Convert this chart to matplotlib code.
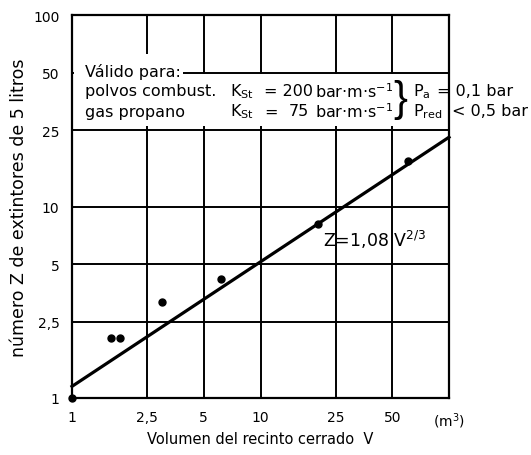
import matplotlib
matplotlib.use("Agg")
import matplotlib.pyplot as plt
from matplotlib.patches import Rectangle

plt.rcParams['font.family'] = ['DejaVu Sans']
plt.rcParams['mathtext.fontset'] = 'dejavusans'

# ---------- data ----------
volume = [1.0, 1.62, 1.8, 3.02, 6.2, 20.3, 60.6]
extinguishers = [1.0, 2.06, 2.06, 3.18, 4.16, 8.15, 17.2]
fit_v = [1.0, 100.0]
fit_z = [1.15, 23.0]
x_ticks = [1, 2.5, 5, 10, 25, 50, 100]
x_labels = ["1", "2,5", "5", "10", "25", "50", "(m$^3$)"]
y_ticks = [1, 2.5, 5, 10, 25, 50, 100]
y_labels = ["1", "2,5", "5", "10", "25", "50", "100"]

W, H = 531, 456
L, R, T, B = 72, 449, 16, 399
fig = plt.figure(figsize=(W / 100, H / 100), dpi=100)
ax = fig.add_axes([L / W, 1 - B / H, (R - L) / W, (B - T) / H])
ax.set_xscale("log")
ax.set_yscale("log")
ax.set_xlim(1, 100)
ax.set_ylim(1, 100)

ax.set_xticks(x_ticks)
ax.set_xticklabels(x_labels)
ax.set_yticks(y_ticks)
ax.set_yticklabels(y_labels)
ax.minorticks_off()
ax.tick_params(length=0, labelsize=10, pad=9)
for s in ax.spines.values():
    s.set_linewidth(1.6)

# grid on the inner ticks
for v in x_ticks[1:-1]:
    ax.axvline(v, color="black", lw=1.4, zorder=1)
for v in y_ticks[1:-1]:
    ax.axhline(v, color="black", lw=1.4, zorder=1)

# white area behind the note
ax.add_patch(Rectangle((1.02, 26.3), 51, 22.7, facecolor="white", edgecolor="none", zorder=2))
ax.add_patch(Rectangle((1.02, 45), 2.86, 17.5, facecolor="white", edgecolor="none", zorder=2))

ax.plot(fit_v, fit_z, color="black", lw=2.3, zorder=3, clip_on=False)
ax.plot(volume, extinguishers, "o", color="black", ms=5, zorder=4, clip_on=False)

ax.set_xlabel("Volumen del recinto cerrado  V", fontsize=10.5)
ax.xaxis.set_label_coords(0.5, -0.085)
ax.set_ylabel("número Z de extintores de 5 litros", fontsize=12.5)
ax.yaxis.set_label_coords(-0.118, 0.5)


def px(x, y):
    return x / W, 1 - y / H


def note(x, y, s, ha="left", size=11.5, **kw):
    fig.text(*px(x, y), s, fontsize=size, ha=ha, va="center", zorder=5, **kw)


note(85, 72, "Válido para:")
note(85, 92, "polvos combust.")
note(230, 92, "K$_{\\mathrm{St}}$")
note(264, 92, "= 200")
note(393, 92, "bar·m·s$^{-1}$", ha="right")
note(85, 112, "gas propano")
note(230, 112, "K$_{\\mathrm{St}}$")
note(264, 112, "=")
note(309, 112, "75", ha="right")
note(393, 112, "bar·m·s$^{-1}$", ha="right")
note(400, 100, "}", ha="center", size=30, family="Liberation Sans")
note(413, 92, "P$_{\\mathrm{a}}$")
note(513, 92, "= 0,1 bar", ha="right")
note(413, 112, "P$_{\\mathrm{red}}$")
note(528, 112, "< 0,5 bar", ha="right")

ax.text(21.5, 6.2, "Z=1,08 V$^{2/3}$", fontsize=12.5, va="baseline", zorder=5)

fig.savefig("out.png", dpi=100)
